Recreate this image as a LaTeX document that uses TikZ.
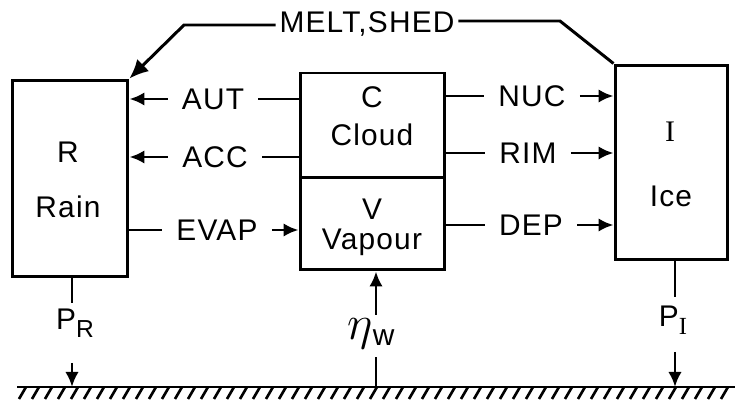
\documentclass[tikz,border=0pt]{standalone}
\usepackage{amsmath}
\usepackage{fontspec}
\setmainfont[LetterSpace=4]{Liberation Sans}
\newfontfamily\serifI{Liberation Serif}
\usetikzlibrary{arrows.meta,positioning}

\tikzset{
  box/.style={draw,line width=1.7pt,inner sep=0pt},
  proc/.style={inner xsep=0.28cm,inner ysep=0pt},
  flow/.style={line width=1.7pt,-{Latex[length=3mm,width=2.7mm]}},
  link/.style={line width=1.7pt},
}

\begin{document}
\begin{tikzpicture}[x=0.02cm,y=-0.02cm,font=\fontsize{17}{20}\selectfont]
\useasboundingbox (0,0) rectangle (735,408);
% compartments
\node[box,minimum width=2.32cm,minimum height=3.94cm] (rain) at (70,178.5) {};
\node[box,minimum width=2.9cm,minimum height=2.1cm] (cloud) at (372.5,125.5) {};
\node[box,minimum width=2.9cm,minimum height=1.84cm] (vapour) at (372.5,224) {};
\node[box,minimum width=2.26cm,minimum height=3.9cm] (ice) at (671.5,162.5) {};

\node[anchor=base] (rainsym) at (68,163) {R};
\node[anchor=base] (rainname) at (68,218) {Rain};
\node[anchor=base] (cloudsym) at (372,108) {C};
\node[anchor=base] (cloudname) at (372,146) {Cloud};
\node[anchor=base] (vapsym) at (372,220) {V};
\node[anchor=base] (vapname) at (372,250) {Vapour};
\node[anchor=base] (icesym) at (670,142) {\serifI I};
\node[anchor=base] (icename) at (671,207) {Ice};

% transfer terms
\node[proc] (aut) at (213,99) {AUT};
\node[proc] (acc) at (215,157) {ACC};
\node[proc] (evap) at (217,230) {EVAP};
\node[proc] (nuc) at (532,96) {NUC};
\node[proc] (rim) at (528,153) {RIM};
\node[proc] (dep) at (531,225) {DEP};
\node[proc,inner xsep=2pt] (melt) at (367,24) {MELT,SHED};

\draw[link] (cloud.west |- aut) -- (aut.east);
\draw[flow] (aut.west) -- (rain.east |- aut);
\draw[link] (cloud.west |- acc) -- (acc.east);
\draw[flow] (acc.west) -- (rain.east |- acc);
\draw[link] (rain.east |- evap) -- (evap.west);
\draw[flow] (evap.east) -- (vapour.west |- evap);
\draw[link] (cloud.east |- nuc) -- (nuc.west);
\draw[flow] (nuc.east) -- (ice.west |- nuc);
\draw[link] (cloud.east |- rim) -- (rim.west);
\draw[flow] (rim.east) -- (ice.west |- rim);
\draw[link] (vapour.east |- dep) -- (dep.west);
\draw[flow] (dep.east) -- (ice.west |- dep);

\coordinate (mL) at (184,25);
\coordinate (mR) at (560,21);
\draw[flow,-{Latex[length=3.8mm,width=3.4mm]}] (melt.west |- mL) -- (mL) -- (rain.north east);
\draw[link] (melt.east |- mR) -- (mR) -- (ice.north west);

% ground and fluxes
\coordinate (gL) at (17,387);
\coordinate (gR) at (735,387);
\draw[link] (gL) -- (gR);
\foreach \x in {26,39,...,735}
  \draw[line width=1.5pt] (\x,387) -- (\x-7,399);

\node[anchor=base] (precR) at (75,330) {P\raisebox{-0.5ex}{\fontsize{14}{15}\selectfont R}};
\coordinate (rainstub) at (72,303);
\coordinate (rainarr) at (72,363);
\coordinate (gRain) at (72,387);
\draw[link] (rain.south -| rainstub) -- (rainstub);
\draw[flow] (rainarr) -- (gRain);

\node[anchor=base] (precI) at (673,327) {P\raisebox{-0.5ex}{\fontsize{14}{15}\selectfont\serifI I}};
\coordinate (icestub) at (675,297);
\coordinate (icearr) at (675,352);
\coordinate (gIce) at (675,387);
\draw[link] (ice.south -| icestub) -- (icestub);
\draw[flow] (icearr) -- (gIce);

\node[anchor=base] (evapw) at (371,340) {\scalebox{1.6}{$\eta$}\raisebox{-0.35ex}{w}};
\coordinate (etaTop) at (376,315);
\coordinate (etaBot) at (376,357);
\coordinate (gVap) at (376,387);
\draw[flow] (etaTop) -- (etaTop |- vapour.south);
\draw[link] (gVap) -- (etaBot);
\end{tikzpicture}
\end{document}
